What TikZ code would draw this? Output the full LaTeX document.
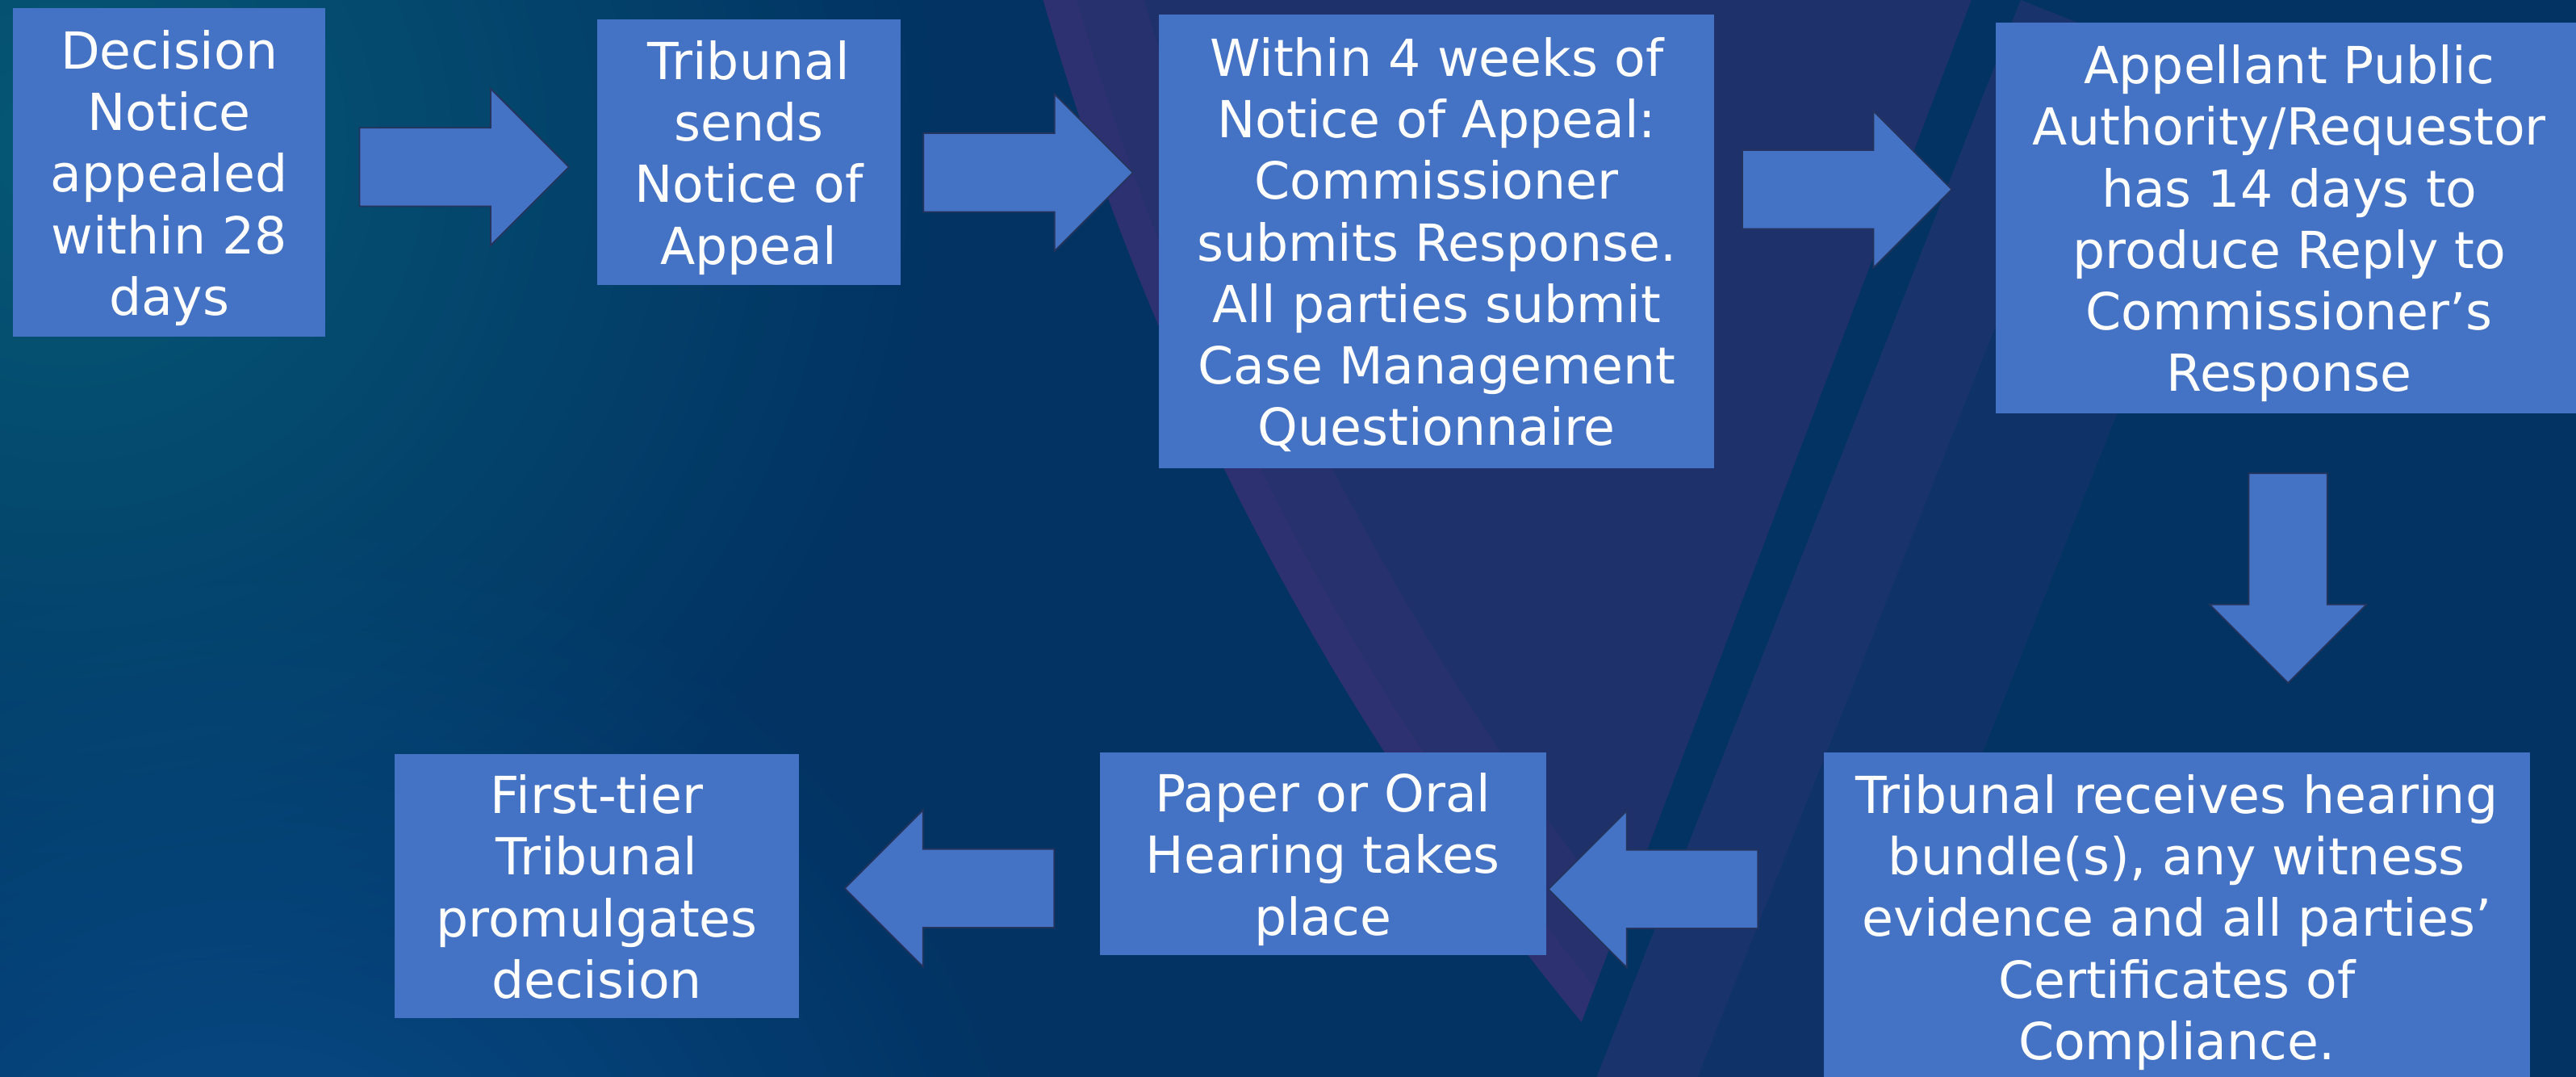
\documentclass[tikz,border=0pt]{standalone}
\usepackage{fontspec}
\setmainfont{DejaVu Sans}
\usetikzlibrary{shapes.arrows, fadings}

\definecolor{navy}{RGB}{2,51,99}
\definecolor{boxblue}{RGB}{68,114,196}
\definecolor{edgeblue}{RGB}{37,52,92}
\definecolor{tealglow}{RGB}{6,88,118}
\definecolor{blueglow}{RGB}{8,78,138}
\definecolor{purplerim}{RGB}{98,56,140}
\definecolor{purplefill}{RGB}{30,49,106}

\tikzfading[name=glowfade, inner color=transparent!0, outer color=transparent!100]

% line boxes as the slide software sets them
\newcommand{\pptup}{\rule{0pt}{18.1pt}}
\newcommand{\pptdown}{\rule[-4.3pt]{0pt}{4.3pt}}

\tikzset{
	stepbox/.style={rectangle, fill=boxblue, text=white, align=center, inner sep=0pt,
		font=\fontsize{18pt}{21.7pt}\selectfont},
	flowarrow/.style={single arrow, fill=boxblue, draw=edgeblue, line width=0.5pt,
		minimum height=2.595cm, minimum width=1.924cm, inner sep=0.478cm,
		single arrow head extend=0.4835cm, single arrow tip angle=90}
}

\begin{document}
\begin{tikzpicture}[x=0.20357mm, y=-0.20357mm]
	
	\useasboundingbox (0, 0) rectangle (1568, 655);
	
	% background
	\begin{scope}
		\clip (-5, -5) rectangle (1573, 660);
		\fill[navy] (-5, -5) rectangle (1573, 660);
		\fill[tealglow, path fading=glowfade] (40, 90) circle (11cm);
		\fill[blueglow, path fading=glowfade] (150, 800) circle (10cm);
		\begin{scope}
			\clip (2300, -479) circle (35.26cm);
			\clip (0, 0) -- (1200, 0) -- (950, 655) -- (0, 655) -- cycle;
			\fill[purplefill] (0, 0) rectangle (1568, 655);
			\draw[purplerim, opacity=.12, line width=2.4cm] (2300, -479) circle (35.26cm);
			\draw[purplerim, opacity=.12, line width=0.8cm] (2300, -479) circle (35.26cm);
		\end{scope}
		\begin{scope}
			\clip (1230, 0) -- (1573, 0) -- (1573, 660) -- (970, 660) -- cycle;
			\draw[purplerim, opacity=.14, line width=6cm] (1230, 0) -- (970, 655);
			\draw[purplerim, opacity=.12, line width=2.4cm] (1230, 0) -- (970, 655);
		\end{scope}
	\end{scope}
	
	\node[stepbox, minimum width=3.868cm, minimum height=4.071cm] at (103, 105) (dn)
		{\pptup Decision\\Notice\\appealed\\within 28\\days\pptdown};
	\node[stepbox, minimum width=3.756cm, minimum height=3.292cm] at (455.75, 92.65) (sn)
		{\pptup Tribunal\\sends\\Notice of\\Appeal\pptdown};
	\node[stepbox, minimum width=6.881cm, minimum height=5.619cm] at (874.5, 146.8) (cr)
		{\pptup Within 4 weeks of\\Notice of Appeal:\\Commissioner\\submits Response.\\All parties submit\\Case Management\\Questionnaire\pptdown};
	\node[stepbox, minimum width=7.267cm, minimum height=4.837cm] at (1393.5, 132.6) (ar)
		{\pptup Appellant Public\\Authority/Requestor\\has 14 days to\\produce Reply to\\Commissioner’s\\Response\pptdown};
	\node[stepbox, minimum width=8.754cm, minimum height=4.063cm] at (1325, 557.8) (hb)
		{\pptup Tribunal receives hearing\\bundle(s), any witness\\evidence and all parties’\\Certificates of\\Compliance.\pptdown};
	\node[stepbox, minimum width=5.527cm, minimum height=2.504cm] at (805.25, 519.5) (oh)
		{\pptup Paper or Oral\\Hearing takes\\place\pptdown};
	\node[stepbox, minimum width=5.018cm, minimum height=3.267cm] at (363.25, 539.25) (pd)
		{\pptup First-tier\\Tribunal\\promulgates\\decision\pptdown};
	
	\node[flowarrow] at (270.6, 101.6) (a) {};
	\node[flowarrow] at (613.9, 105) (b) {};
	\node[flowarrow] at (1112.3, 115.3) (c) {};
	\node[flowarrow, shape border rotate=270] at (1392.7, 339.8) (d) {};
	\node[flowarrow, shape border rotate=180] at (1018.2, 541) (e) {};
	\node[flowarrow, shape border rotate=180] at (589.9, 540.5) (f) {};
	
\end{tikzpicture}
\end{document}
